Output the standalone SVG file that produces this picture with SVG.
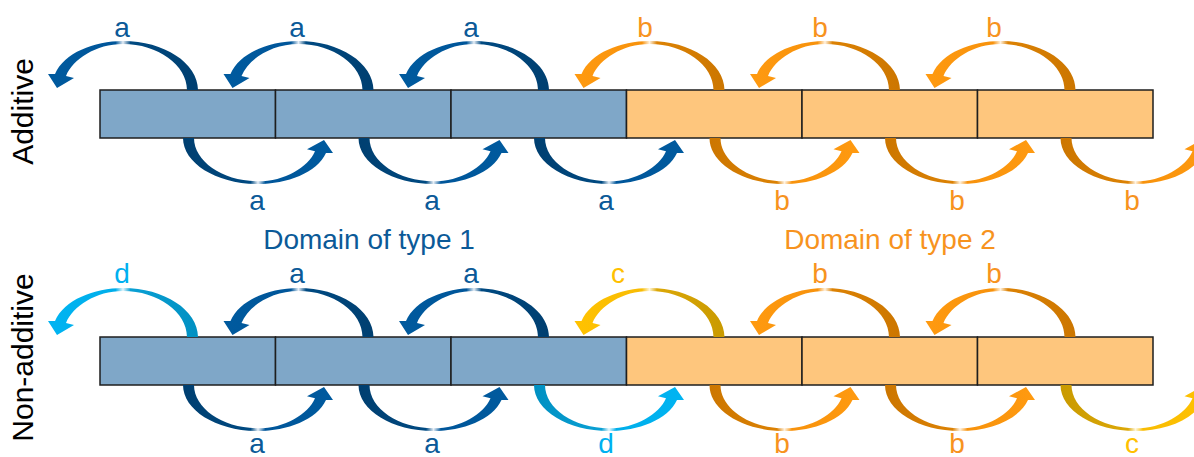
<svg xmlns="http://www.w3.org/2000/svg" xmlns:xlink="http://www.w3.org/1999/xlink" width="1194" height="457" viewBox="0 0 1194 457">
<style>
  .box{stroke:#1e1e1e;stroke-width:1.5}
  .bl{fill:#7fa7c8}
  .or{fill:#fec67d}
  text{font-family:"Liberation Sans",Arial,sans-serif;font-size:28px;text-anchor:middle}
  .side{font-size:30px;fill:#000}
  .ta{fill:#0b5a98}
  .tb{fill:#f7931e}
  .td{fill:#00b0f0}
  .tc{fill:#ffc000}
</style>
<defs>
  <linearGradient id="gB" x1="0" y1="0" x2="1" y2="0">
    <stop offset="0" stop-color="#005a9e"/>
    <stop offset="0.45" stop-color="#00569a"/>
    <stop offset="0.5" stop-color="#e6eef6"/>
    <stop offset="0.55" stop-color="#004a82"/>
    <stop offset="1" stop-color="#003f70"/>
  </linearGradient>
  <linearGradient id="gO" x1="0" y1="0" x2="1" y2="0">
    <stop offset="0" stop-color="#ff9a10"/>
    <stop offset="0.45" stop-color="#f7920c"/>
    <stop offset="0.5" stop-color="#fff2e0"/>
    <stop offset="0.55" stop-color="#dc8204"/>
    <stop offset="1" stop-color="#cc7600"/>
  </linearGradient>
  <linearGradient id="gL" x1="0" y1="0" x2="1" y2="0">
    <stop offset="0" stop-color="#00b4f2"/>
    <stop offset="0.45" stop-color="#00aeea"/>
    <stop offset="0.5" stop-color="#e6f7fd"/>
    <stop offset="0.55" stop-color="#0aa0d4"/>
    <stop offset="1" stop-color="#0090c2"/>
  </linearGradient>
  <linearGradient id="gY" x1="0" y1="0" x2="1" y2="0">
    <stop offset="0" stop-color="#ffc200"/>
    <stop offset="0.45" stop-color="#f8bc04"/>
    <stop offset="0.5" stop-color="#fff7dc"/>
    <stop offset="0.55" stop-color="#dca808"/>
    <stop offset="1" stop-color="#c99a00"/>
  </linearGradient>
  <path id="arr" d="M198,90 C198,63 164,41 123,41 C94,41 64,53 55,74 L48,74 L57,88 L74,78 L66,76 C73,59 96,44 123,44 C158,44 187,65 187,90 Z"/>
</defs>

<text class="side" transform="translate(33,111.5) rotate(-90)">Additive</text>
<text class="side" transform="translate(33,357.5) rotate(-90)">Non-additive</text>

<g id="nodes">
  <g id="add-1"><rect class="box bl" x="100" y="90" width="175.5" height="48"/></g>
  <g id="add-2"><rect class="box bl" x="275.5" y="90" width="175.5" height="48"/></g>
  <g id="add-3"><rect class="box bl" x="451" y="90" width="175.5" height="48"/></g>
  <g id="add-4"><rect class="box or" x="626.5" y="90" width="175.5" height="48"/></g>
  <g id="add-5"><rect class="box or" x="802" y="90" width="175.5" height="48"/></g>
  <g id="add-6"><rect class="box or" x="977.5" y="90" width="175.5" height="48"/></g>
  <g id="non-1"><rect class="box bl" x="100" y="337" width="175.5" height="48"/></g>
  <g id="non-2"><rect class="box bl" x="275.5" y="337" width="175.5" height="48"/></g>
  <g id="non-3"><rect class="box bl" x="451" y="337" width="175.5" height="48"/></g>
  <g id="non-4"><rect class="box or" x="626.5" y="337" width="175.5" height="48"/></g>
  <g id="non-5"><rect class="box or" x="802" y="337" width="175.5" height="48"/></g>
  <g id="non-6"><rect class="box or" x="977.5" y="337" width="175.5" height="48"/></g>
</g>

<g id="connectors">
  <use xlink:href="#arr" fill="url(#gB)"/>
  <use xlink:href="#arr" fill="url(#gB)" transform="translate(175.5,0)"/>
  <use xlink:href="#arr" fill="url(#gB)" transform="translate(351,0)"/>
  <use xlink:href="#arr" fill="url(#gO)" transform="translate(526.5,0)"/>
  <use xlink:href="#arr" fill="url(#gO)" transform="translate(702,0)"/>
  <use xlink:href="#arr" fill="url(#gO)" transform="translate(877.5,0)"/>
  <use xlink:href="#arr" fill="url(#gB)" transform="matrix(-1,0,0,-0.94,381,222.6)"/>
  <use xlink:href="#arr" fill="url(#gB)" transform="translate(175.5,0) matrix(-1,0,0,-0.94,381,222.6)"/>
  <use xlink:href="#arr" fill="url(#gB)" transform="translate(351,0) matrix(-1,0,0,-0.94,381,222.6)"/>
  <use xlink:href="#arr" fill="url(#gO)" transform="translate(526.5,0) matrix(-1,0,0,-0.94,381,222.6)"/>
  <use xlink:href="#arr" fill="url(#gO)" transform="translate(702,0) matrix(-1,0,0,-0.94,381,222.6)"/>
  <use xlink:href="#arr" fill="url(#gO)" transform="translate(877.5,0) matrix(-1,0,0,-0.94,381,222.6)"/>
  <use xlink:href="#arr" fill="url(#gL)" transform="translate(0,247)"/>
  <use xlink:href="#arr" fill="url(#gB)" transform="translate(175.5,247)"/>
  <use xlink:href="#arr" fill="url(#gB)" transform="translate(351,247)"/>
  <use xlink:href="#arr" fill="url(#gY)" transform="translate(526.5,247)"/>
  <use xlink:href="#arr" fill="url(#gO)" transform="translate(702,247)"/>
  <use xlink:href="#arr" fill="url(#gO)" transform="translate(877.5,247)"/>
  <use xlink:href="#arr" fill="url(#gB)" transform="translate(0,247) matrix(-1,0,0,-0.94,381,222.6)"/>
  <use xlink:href="#arr" fill="url(#gB)" transform="translate(175.5,247) matrix(-1,0,0,-0.94,381,222.6)"/>
  <use xlink:href="#arr" fill="url(#gL)" transform="translate(351,247) matrix(-1,0,0,-0.94,381,222.6)"/>
  <use xlink:href="#arr" fill="url(#gO)" transform="translate(526.5,247) matrix(-1,0,0,-0.94,381,222.6)"/>
  <use xlink:href="#arr" fill="url(#gO)" transform="translate(702,247) matrix(-1,0,0,-0.94,381,222.6)"/>
  <use xlink:href="#arr" fill="url(#gY)" transform="translate(877.5,247) matrix(-1,0,0,-0.94,381,222.6)"/>

  <text class="ta" x="122" y="37">a</text>
  <text class="ta" x="297" y="37">a</text>
  <text class="ta" x="471" y="37">a</text>
  <text class="tb" x="645" y="37">b</text>
  <text class="tb" x="820" y="37">b</text>
  <text class="tb" x="994" y="37">b</text>
  <text class="ta" x="257" y="210">a</text>
  <text class="ta" x="432" y="210">a</text>
  <text class="ta" x="606" y="210">a</text>
  <text class="tb" x="782" y="210">b</text>
  <text class="tb" x="957" y="210">b</text>
  <text class="tb" x="1132" y="210">b</text>

  <text class="td" x="122" y="283">d</text>
  <text class="ta" x="297" y="283">a</text>
  <text class="ta" x="471" y="283">a</text>
  <text class="tc" x="618" y="283">c</text>
  <text class="tb" x="820" y="283">b</text>
  <text class="tb" x="994" y="283">b</text>
  <text class="ta" x="257" y="453">a</text>
  <text class="ta" x="432" y="453">a</text>
  <text class="td" x="606" y="453">d</text>
  <text class="tb" x="782" y="453">b</text>
  <text class="tb" x="957" y="453">b</text>
  <text class="tc" x="1132" y="453">c</text>
</g>

<text class="ta" x="369" y="249">Domain of type 1</text>
<text class="tb" x="890" y="249">Domain of type 2</text>
</svg>
